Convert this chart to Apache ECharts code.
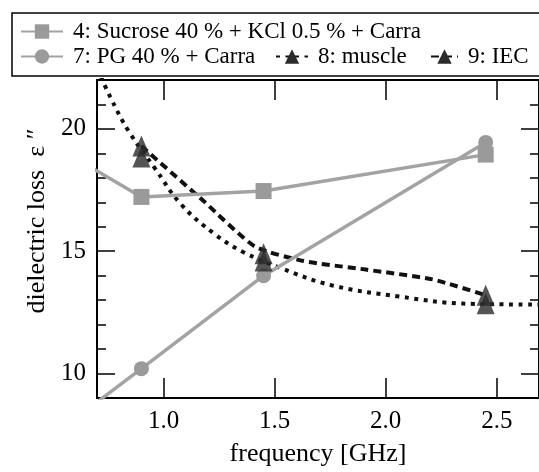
<!DOCTYPE html>
<html>
<head>
<meta charset="utf-8">
<script src="https://cdn.jsdelivr.net/npm/echarts@6/dist/echarts.min.js"></script>
<style>
html,body{margin:0;padding:0;background:#fff;}
#chart{width:539px;height:472px;}
</style>
</head>
<body>
<div id="chart"></div>
<script>
// ---- data ----
const xTicks = [1.0, 1.5, 2.0, 2.5];
const yTicks = [10, 15, 20];

const sucroseName = '4: Sucrose 40 % + KCl 0.5 % + Carra';
const sucroseFreq = [0.433, 0.9, 1.45, 2.45];
const sucroseLoss = [19.7, 17.22, 17.46, 18.95];

const pgName = '7: PG 40 % + Carra';
const pgFreq = [0.433, 0.9, 1.45, 2.45];
const pgLoss = [7.0, 10.2, 14.0, 19.45];

const muscleName = '8: muscle';
const muscleCurveFreq = [0.70, 0.76, 0.843, 0.96, 1.08, 1.23, 1.36, 1.53, 1.76, 2.06, 2.35, 2.69];
const muscleCurveLoss = [22.5, 21.3, 19.9, 18.4, 16.9, 15.7, 14.96, 14.3, 13.6, 13.15, 12.86, 12.82];
const muscleMarkFreq = [0.9, 1.45, 2.45];
const muscleMarkLoss = [18.85, 14.6, 12.85];

const iecName = '9: IEC';
const iecCurveFreq = [0.9, 1.18, 1.41, 1.63, 1.91, 2.21, 2.45];
const iecCurveLoss = [19.3, 17.05, 15.2, 14.6, 14.25, 13.85, 13.2];
const iecMarkFreq = [0.9, 1.45, 2.45];
const iecMarkLoss = [19.3, 14.9, 13.2];

const zip = (a, b) => a.map((v, i) => [v, b[i]]);

const FONT = 'Liberation Serif';
const chart = echarts.init(document.getElementById('chart'), null, {renderer: 'canvas'});

const legendText = {fontFamily: FONT, fontSize: 23, color: '#000', padding: [0, 0, 0, 5]};
function mkLegend(name, left, top, w) {
  return {
    data: [name], left: left, top: top, orient: 'horizontal',
    itemWidth: w, itemHeight: 18, padding: 0, itemGap: 0,
    textStyle: legendText, selectedMode: false
  };
}

const axisLineStyle = {color: '#000', width: 2};

const option = {
  animation: false,
  backgroundColor: '#fff',
  grid: {left: 97, top: 80, right: -6, bottom: 69, containLabel: false},
  legend: [
    mkLegend(sucroseName, 20, 20, 42),
    mkLegend(pgName, 20, 45, 42),
    mkLegend(muscleName, 275, 45, 32),
    mkLegend(iecName, 430, 45, 27)
  ],
  graphic: [{
    type: 'rect', shape: {x: 12, y: 13, width: 600, height: 63},
    style: {fill: 'none', stroke: '#000', lineWidth: 1.5}, z: 100
  }],
  xAxis: [{
    type: 'value', min: 0.7, max: 2.69, position: 'bottom',
    axisLine: {lineStyle: axisLineStyle},
    axisTick: {inside: true, length: 20, customValues: xTicks, lineStyle: {color: '#000', width: 1.5}},
    axisLabel: {customValues: xTicks, formatter: v => v.toFixed(1), fontFamily: FONT, fontSize: 25, color: '#000', margin: 11},
    splitLine: {show: false},
    name: 'frequency [GHz]', nameLocation: 'middle', nameGap: 43,
    nameTextStyle: {fontFamily: FONT, fontSize: 26, color: '#000'}
  }, {
    type: 'value', min: 0.7, max: 2.69, position: 'top',
    axisLine: {lineStyle: axisLineStyle},
    axisTick: {inside: true, length: 20, customValues: xTicks, lineStyle: {color: '#000', width: 1.5}},
    axisLabel: {show: false}, splitLine: {show: false}
  }],
  yAxis: [{
    type: 'value', min: 9, max: 22, position: 'left',
    axisLine: {show: true, lineStyle: axisLineStyle},
    axisTick: {inside: true, length: 18, customValues: yTicks, lineStyle: {color: '#000', width: 1.5}},
    axisLabel: {customValues: yTicks, fontFamily: FONT, fontSize: 25, color: '#000', margin: 11},
    splitLine: {show: false},
    name: 'dielectric loss  ε ″', nameLocation: 'middle', nameGap: 46,
    nameTextStyle: {fontFamily: FONT, fontSize: 26, color: '#000', padding: [0, 0, 0, 36]}
  }, {
    type: 'value', min: 9, max: 22, interval: 1, position: 'left',
    axisLine: {show: false},
    axisTick: {inside: true, length: 9, lineStyle: {color: '#000', width: 1.5}},
    axisLabel: {show: false}, splitLine: {show: false}
  }, {
    type: 'value', min: 9, max: 22, position: 'right',
    axisLine: {show: true, lineStyle: axisLineStyle},
    axisTick: {inside: true, length: 18, customValues: yTicks, lineStyle: {color: '#000', width: 1.5}},
    axisLabel: {show: false}, splitLine: {show: false}
  }, {
    type: 'value', min: 9, max: 22, interval: 1, position: 'right',
    axisLine: {show: false},
    axisTick: {inside: true, length: 9, lineStyle: {color: '#000', width: 1.5}},
    axisLabel: {show: false}, splitLine: {show: false}
  }],
  series: [{
    name: muscleName, type: 'line', data: zip(muscleCurveFreq, muscleCurveLoss),
    smooth: 0.4, symbol: 'triangle', showSymbol: false, clip: true,
    lineStyle: {color: '#111', width: 4, type: [4, 5.5]},
    itemStyle: {color: '#2b2b2b'}, z: 2
  }, {
    name: iecName, type: 'line', data: zip(iecCurveFreq, iecCurveLoss),
    smooth: 0.2, symbol: 'triangle', showSymbol: false, clip: true,
    lineStyle: {color: '#111', width: 4, type: [8, 5]},
    itemStyle: {color: '#2b2b2b'}, z: 2
  }, {
    name: sucroseName, type: 'line', data: zip(sucroseFreq, sucroseLoss),
    symbol: 'rect', symbolSize: 16, clip: true,
    lineStyle: {color: '#a3a3a3', width: 3.5},
    itemStyle: {color: '#9a9a9a'}, z: 3
  }, {
    name: pgName, type: 'line', data: zip(pgFreq, pgLoss),
    symbol: 'circle', symbolSize: 15, clip: true,
    lineStyle: {color: '#a3a3a3', width: 3.5},
    itemStyle: {color: '#9a9a9a'}, z: 3
  }, {
    name: muscleName, type: 'scatter', data: zip(muscleMarkFreq, muscleMarkLoss),
    symbol: 'triangle', symbolSize: [18, 21], itemStyle: {color: '#2b2b2b'}, z: 4
  }, {
    name: iecName, type: 'scatter', data: zip(iecMarkFreq, iecMarkLoss),
    symbol: 'triangle', symbolSize: [18, 21], itemStyle: {color: '#2b2b2b'}, z: 4
  }]
};
chart.setOption(option);
</script>
</body>
</html>
